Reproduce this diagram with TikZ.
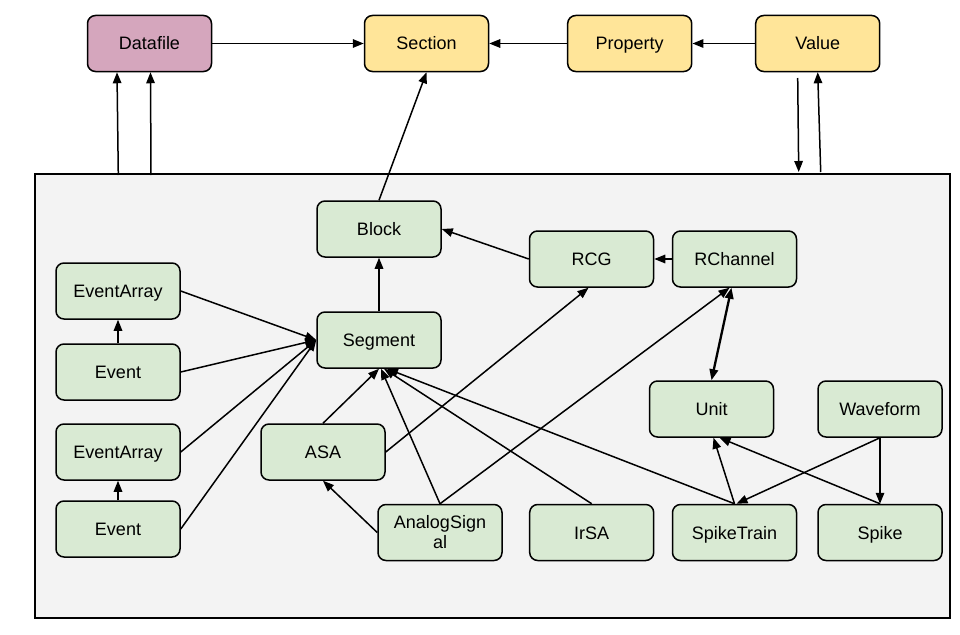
\documentclass[tikz,border=0pt]{standalone}
\usepackage{fontspec}
\setmainfont{Liberation Sans}
\usetikzlibrary{arrows.meta}
\definecolor{boxgreen}{HTML}{D9EAD3}
\definecolor{boxyellow}{HTML}{FFE599}
\definecolor{boxpink}{HTML}{D5A6BD}
\definecolor{panel}{HTML}{F3F3F3}
\tikzset{
  box/.style={draw=black, line width=1.5pt, rounded corners=8pt, minimum width=124pt, minimum height=56pt, inner sep=0pt, align=center, font=\fontsize{18}{20}\selectfont},
  one/.style={text height=13pt, text depth=0pt},
  gbox/.style={box, fill=boxgreen},
  ybox/.style={box, fill=boxyellow, one},
  pbox/.style={box, fill=boxpink, one},
  arr/.style={line width=1.5pt, -{Triangle[length=11pt,width=8.5pt]}},
  darr/.style={line width=2.3pt, {Triangle[length=11pt,width=8.5pt]}-{Triangle[length=11pt,width=8.5pt]}}
}
\begin{document}
\begin{tikzpicture}[x=1pt,y=-1pt]
\useasboundingbox (0,0) rectangle (960,634);
\node[draw=black, line width=1.5pt, fill=panel, minimum width=915pt, minimum height=444pt, inner sep=0pt] (panel) at (492.5,396) {};
% top row
\node[pbox] (datafile) at (149.5,43.5) {Datafile};
\node[ybox] (section) at (426.5,43.5) {Section};
\node[ybox] (property) at (629.7,43.5) {Property};
\node[ybox] (value) at (817.7,43.5) {Value};
% inner nodes
\node[gbox, one] (block) at (379,229) {Block};
\node[gbox, one] (rcg) at (591.5,259) {RCG};
\node[gbox, one] (rchannel) at (734.5,259) {RChannel};
\node[gbox, one] (segment) at (379,340) {Segment};
\node[gbox, one] (evarr1) at (118,291) {EventArray};
\node[gbox, one] (event1) at (118,372) {Event};
\node[gbox, one] (evarr2) at (118,452) {EventArray};
\node[gbox, one] (event2) at (118,529) {Event};
\node[gbox, one] (asa) at (323,452) {ASA};
\node[gbox] (analog) at (440,532.5) {AnalogSign\\al};
\node[gbox, one] (irsa) at (591.7,532.5) {IrSA};
\node[gbox, one] (unit) at (711.5,409) {Unit};
\node[gbox, one] (waveform) at (880,409) {Waveform};
\node[gbox, one] (spiketrain) at (734.5,532.5) {SpikeTrain};
\node[gbox, one] (spike) at (880,532.5) {Spike};
% free ends
\coordinate (dA) at (118.3,175);
\coordinate (dB) at (151,175);
\coordinate (vA) at (797.7,78);
\coordinate (vB) at (798.7,172);
\coordinate (vC) at (820.7,172);
% top connectors
\draw[arr] (datafile) -- (section);
\draw[arr] (property) -- (section);
\draw[arr] (value) -- (property);
\draw[arr] (dA) -- ([xshift=-32.5pt]datafile.south);
\draw[arr] (dB) -- ([xshift=1pt]datafile.south);
\draw[arr] (vA) -- (vB);
\draw[arr] (vC) -- (value.south);
\draw[arr] (block.north) -- (section.south);
% inner connectors
\draw[arr] (segment) -- (block);
\draw[arr] (rcg.west) -- (block.east);
\draw[arr] (rchannel) -- (rcg);
\draw[arr] (evarr1.east) -- (segment.west);
\draw[arr] (event1.east) -- (segment.west);
\draw[arr] (evarr2.east) -- (segment.west);
\draw[arr] (event2.east) -- (segment.west);
\draw[arr] (event1) -- (evarr1);
\draw[arr] (event2) -- (evarr2);
\draw[arr] (asa.north) -- (segment.south);
\draw[arr] (analog.north) -- ([xshift=2pt]segment.south);
\draw[arr] (irsa.north) -- ([xshift=5pt]segment.south);
\draw[arr] (spiketrain.north) -- ([xshift=8pt]segment.south);
\draw[arr] (analog.west) -- (asa.south);
\draw[arr] (asa.east) -- ([xshift=-3pt]rcg.south);
\draw[arr] (analog.north) -- ([xshift=-5pt]rchannel.south);
\draw[darr] ([xshift=-3pt]rchannel.south) -- (unit.north);
\draw[arr] (spiketrain.north) -- ([xshift=2pt]unit.south);
\draw[arr] (spike.north) -- ([xshift=8pt]unit.south);
\draw[arr] (waveform.south) -- ([xshift=2pt]spiketrain.north);
\draw[arr] (waveform.south) -- (spike.north);
\end{tikzpicture}
\end{document}
